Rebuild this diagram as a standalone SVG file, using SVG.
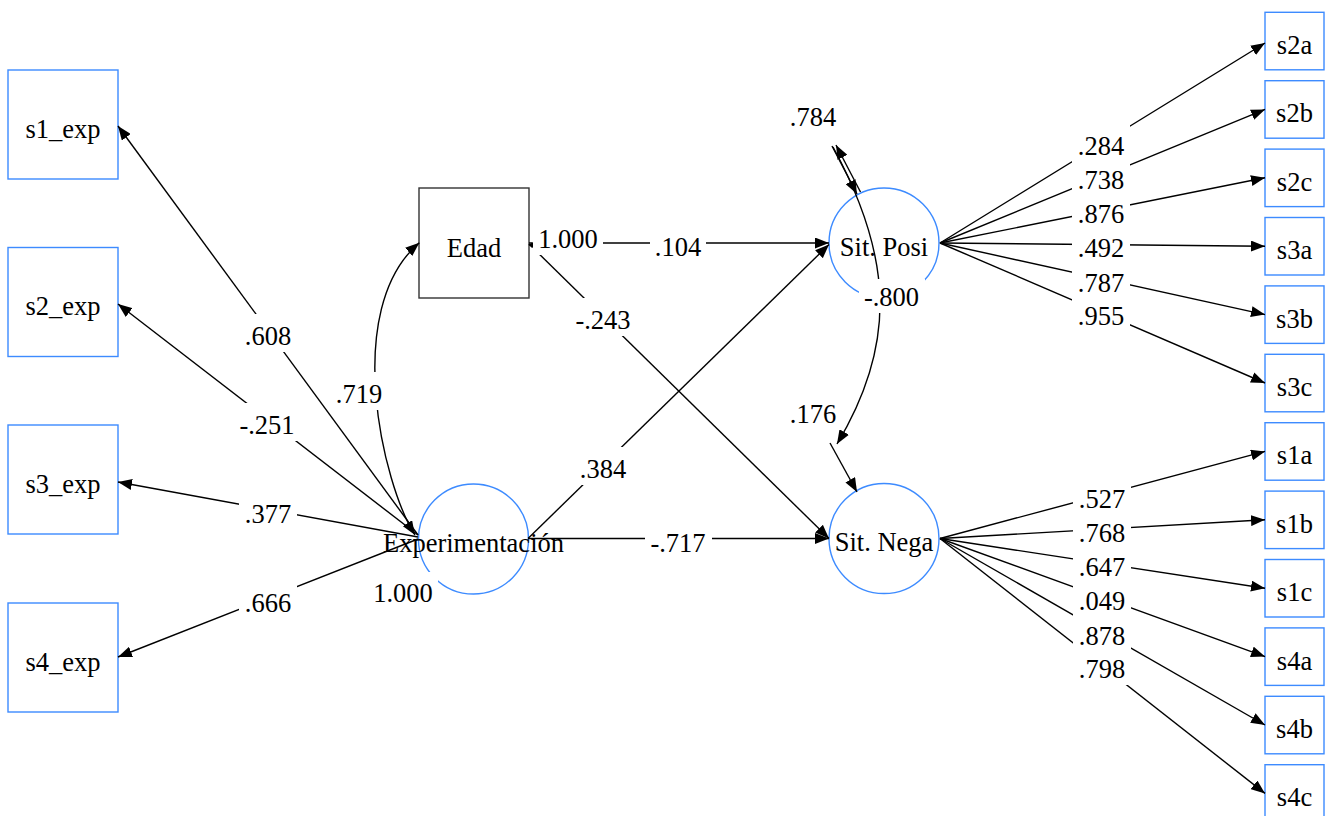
<svg xmlns="http://www.w3.org/2000/svg" width="1329" height="816" viewBox="0 0 1329 816">
  <style>
    text { font-family: "Liberation Serif", "Times New Roman", serif; font-size: 26.5px; fill: #000; text-anchor: middle; }
    .ind { fill: #fff; stroke: #3d8bff; stroke-width: 1.4; }
    .obs { fill: #fff; stroke: #333; stroke-width: 1.4; }
    .lat { fill: none; stroke: #3d8bff; stroke-width: 1.4; }
    .e { fill: none; stroke: #000; stroke-width: 1.4; }
    .a { marker-end: url(#ah); }
    .aa { marker-start: url(#ah); marker-end: url(#ah); }
    .lb { fill: #fff; stroke: none; }
  </style>
  <defs>
    <marker id="ah" viewBox="0 0 14 11" refX="14" refY="5.5" markerWidth="14" markerHeight="11" markerUnits="userSpaceOnUse" orient="auto-start-reverse">
      <path d="M0,0 L14,5.5 L0,11 z" fill="#000"/>
    </marker>
  </defs>
  <rect width="1329" height="816" fill="#fff"/>

  <!-- indicators of Experimentación -->
  <g id="s1_exp"><rect class="ind" x="8" y="70" width="110" height="109"/><text x="63" y="137.5">s1_exp</text></g>
  <g id="s2_exp"><rect class="ind" x="8" y="247.5" width="110" height="109"/><text x="63" y="315">s2_exp</text></g>
  <g id="s3_exp"><rect class="ind" x="8" y="425" width="110" height="109"/><text x="63" y="492.5">s3_exp</text></g>
  <g id="s4_exp"><rect class="ind" x="8" y="603" width="110" height="109"/><text x="63" y="670.5">s4_exp</text></g>

  <!-- observed covariate -->
  <g id="Edad"><rect class="obs" x="419" y="188" width="110" height="110"/><text x="474" y="257">Edad</text></g>

  <!-- latent factors -->
  <g id="Experimentacion"><circle class="lat" cx="473.5" cy="539" r="55"/><text x="473.5" y="551.5">Experimentación</text></g>
  <g id="SitPosi"><circle class="lat" cx="884" cy="243" r="55"/><text x="884" y="255.5">Sit. Posi</text></g>
  <g id="SitNega"><circle class="lat" cx="884" cy="538.5" r="55"/><text x="884" y="551">Sit. Nega</text></g>

  <!-- indicators of Sit. Posi / Sit. Nega -->
  <g id="s2a"><rect class="ind" x="1265" y="12.3" width="59" height="57.5"/><text x="1294.5" y="54">s2a</text></g>
  <g id="s2b"><rect class="ind" x="1265" y="80.7" width="59" height="57.5"/><text x="1294.5" y="122.4">s2b</text></g>
  <g id="s2c"><rect class="ind" x="1265" y="149.1" width="59" height="57.5"/><text x="1294.5" y="190.8">s2c</text></g>
  <g id="s3a"><rect class="ind" x="1265" y="217.5" width="59" height="57.5"/><text x="1294.5" y="259.2">s3a</text></g>
  <g id="s3b"><rect class="ind" x="1265" y="285.9" width="59" height="57.5"/><text x="1294.5" y="327.6">s3b</text></g>
  <g id="s3c"><rect class="ind" x="1265" y="354.3" width="59" height="57.5"/><text x="1294.5" y="396">s3c</text></g>
  <g id="s1a"><rect class="ind" x="1265" y="422.7" width="59" height="57.5"/><text x="1294.5" y="464.4">s1a</text></g>
  <g id="s1b"><rect class="ind" x="1265" y="491.1" width="59" height="57.5"/><text x="1294.5" y="532.8">s1b</text></g>
  <g id="s1c"><rect class="ind" x="1265" y="559.5" width="59" height="57.5"/><text x="1294.5" y="601.2">s1c</text></g>
  <g id="s4a"><rect class="ind" x="1265" y="627.9" width="59" height="57.5"/><text x="1294.5" y="669.6">s4a</text></g>
  <g id="s4b"><rect class="ind" x="1265" y="696.3" width="59" height="57.5"/><text x="1294.5" y="738">s4b</text></g>
  <g id="s4c"><rect class="ind" x="1265" y="764.7" width="59" height="57.5"/><text x="1294.5" y="806.4">s4c</text></g>

  <!-- connectors -->
  <g id="connectors">
    <!-- loadings of Experimentación -->
    <path class="e a" d="M418,535 L118,126"/>
    <path class="e a" d="M418,535 L118,304"/>
    <path class="e a" d="M418,537 L118,482"/>
    <path class="e a" d="M418,539 L118,657"/>
    <!-- covariance Experimentación - Edad -->
    <path class="e aa" d="M415,535 C382.8,484.7 341.6,309.4 419.3,242.7"/>
    <!-- regressions -->
    <path class="e a" d="M529,243 L829,243"/>
    <path class="e a" d="M529,244 L829,538.5"/>
    <path class="e a" d="M528,538.5 L829,244.5"/>
    <path class="e a" d="M528,538.5 L829,538.5"/>
    <!-- residual loops and factor covariance -->
    <path class="e a" d="M832,146 L857,194"/>
    <path class="e a" d="M860.5,192 L836,145"/>
    <path class="e a" d="M833,147 C893.5,258 896.5,345 837,444"/>
    <path class="e a" d="M830,443 L857,492"/>
    <!-- loadings of Sit. Posi -->
    <path class="e a" d="M940,243 L1265,43"/>
    <path class="e a" d="M940,243 L1265,109.4"/>
    <path class="e a" d="M940,243 L1265,177.8"/>
    <path class="e a" d="M940,243 L1265,246.2"/>
    <path class="e a" d="M940,243 L1265,314.6"/>
    <path class="e a" d="M940,243 L1265,383"/>
    <!-- loadings of Sit. Nega -->
    <path class="e a" d="M940,538.5 L1265,451.4"/>
    <path class="e a" d="M940,538.5 L1265,519.8"/>
    <path class="e a" d="M940,538.5 L1265,588.2"/>
    <path class="e a" d="M940,538.5 L1265,656.6"/>
    <path class="e a" d="M940,538.5 L1265,725"/>
    <path class="e a" d="M940,538.5 L1265,793.4"/>
  </g>

  <!-- connector labels -->
  <g id="labels">
    <rect class="lb" x="239" y="314" width="58" height="38"/><text x="268" y="345">.608</text>
    <rect class="lb" x="234" y="403" width="67" height="38"/><text x="267" y="434">-.251</text>
    <rect class="lb" x="239" y="492" width="58" height="38"/><text x="268" y="523">.377</text>
    <rect class="lb" x="239" y="581" width="58" height="38"/><text x="268" y="612">.666</text>
    <rect class="lb" x="330" y="372" width="58" height="38"/><text x="359" y="403">.719</text>
    <rect class="lb" x="367" y="572" width="71" height="37"/><text x="403" y="602">1.000</text>
    <rect class="lb" x="532" y="218" width="71" height="37"/><text x="568" y="248">1.000</text>
    <rect class="lb" x="650" y="225" width="56" height="38"/><text x="678" y="256">.104</text>
    <rect class="lb" x="570" y="298" width="66" height="38"/><text x="603" y="329">-.243</text>
    <rect class="lb" x="574" y="447" width="58" height="38"/><text x="603" y="478">.384</text>
    <rect class="lb" x="645" y="521" width="67" height="38"/><text x="678" y="552">-.717</text>
    <rect class="lb" x="784" y="95" width="58" height="38"/><text x="813" y="126">.784</text>
    <rect class="lb" x="859" y="279" width="66" height="34"/><text x="891.5" y="306">-.800</text>
    <rect class="lb" x="784" y="392" width="58" height="38"/><text x="813" y="423">.176</text>

    <rect class="lb" x="1072" y="125" width="58" height="37"/><text x="1101" y="155">.284</text>
    <rect class="lb" x="1072" y="159" width="58" height="37"/><text x="1101" y="189">.738</text>
    <rect class="lb" x="1072" y="193" width="58" height="37"/><text x="1101" y="223">.876</text>
    <rect class="lb" x="1072" y="227" width="58" height="37"/><text x="1101" y="257">.492</text>
    <rect class="lb" x="1072" y="262" width="58" height="37"/><text x="1101" y="292">.787</text>
    <rect class="lb" x="1072" y="295" width="58" height="37"/><text x="1101" y="325">.955</text>

    <rect class="lb" x="1073" y="478" width="58" height="37"/><text x="1102" y="508">.527</text>
    <rect class="lb" x="1073" y="512" width="58" height="37"/><text x="1102" y="542">.768</text>
    <rect class="lb" x="1073" y="546" width="58" height="37"/><text x="1102" y="576">.647</text>
    <rect class="lb" x="1073" y="580" width="58" height="37"/><text x="1102" y="610">.049</text>
    <rect class="lb" x="1073" y="615" width="58" height="37"/><text x="1102" y="645">.878</text>
    <rect class="lb" x="1073" y="648" width="58" height="37"/><text x="1102" y="678">.798</text>

    <!-- tip of the Edad variance loop peeking out beside its label -->
    <polygon points="528.5,245 533,242 533,248" fill="#000"/>
  </g>
</svg>
